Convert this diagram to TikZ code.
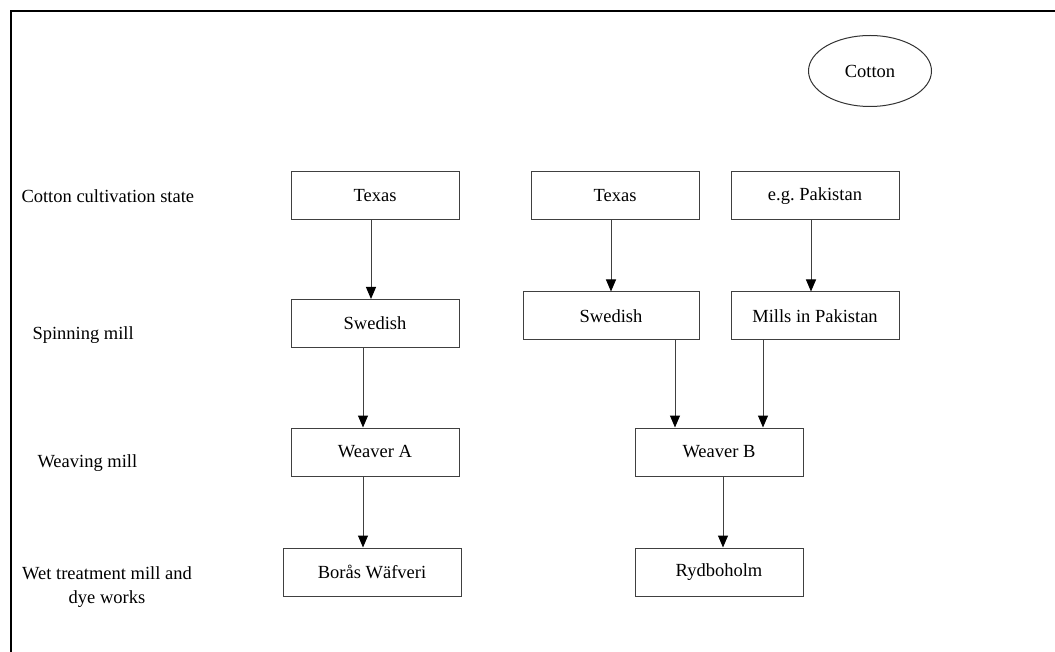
\documentclass[tikz,border=0pt]{standalone}
\usepackage{fontspec}
\setmainfont{Liberation Serif}
\usetikzlibrary{arrows.meta,shapes.geometric}

\begin{document}
\begin{tikzpicture}[x=1pt, y=-1pt, ->, >={Triangle[width=10pt,length=12pt,color=black]}, line width=1pt,
  font=\fontsize{18.5}{23}\selectfont,
  box/.style={draw=black!75, minimum width=168pt, minimum height=48pt, inner sep=0pt},
  lbl/.style={anchor=west, inner sep=0pt}]
\useasboundingbox (0,0) rectangle (1055,652);
\draw [-, line width=2pt] (11,652) -- (11,11) -- (1055,11);

 \node [ellipse, draw=black!80, minimum width=123pt, minimum height=71pt, inner sep=0pt] (cotton) at (870,71) {Cotton};

 \node [lbl] (lcult) at (21,196) {Cotton cultivation state};
 \node [lbl] (lspin) at (32,335) {Spinning mill};
 \node [lbl] (lweave) at (37,463) {Weaving mill};
 \node [align=center, inner sep=0pt, font=\fontsize{18.5}{24}\selectfont] (lwet) at (107,587) {Wet treatment mill and\\dye works};

 \node [box] (texA) at (375,196) {Texas};
 \node [box] (swedA) at (375,323.5) {Swedish};
 \node [box] (weavA) at (375,452) {Weaver A};
 \node [box, minimum width=178pt] (boras) at (372,572) {Borås Wäfveri};

 \node [box] (texB) at (615,196) {Texas};
 \node [box, minimum width=176pt] (swedB) at (611,316) {Swedish};
 \node [box] (pak) at (815,196) {e.g.\ Pakistan};
 \node [box] (mills) at (815,316) {Mills in Pakistan};
 \node [box] (weavB) at (719,452) {Weaver B};
 \node [box] (ryd) at (719,572) {Rydboholm};

\draw [draw=black!75] ([xshift=-4pt]texA.south) -- ([xshift=-4pt]texA.south |- swedA.north);
\draw [draw=black!75] ([xshift=-12pt]swedA.south) -- ([xshift=-12pt]swedA.south |- weavA.north);
\draw [draw=black!75] ([xshift=-12pt]weavA.south) -- ([xshift=-12pt]weavA.south |- boras.north);

\draw [draw=black!75] ([xshift=-4pt]texB.south) -- ([xshift=-4pt]texB.south |- swedB.north);
\draw [draw=black!75] ([xshift=-4pt]pak.south) -- ([xshift=-4pt]pak.south |- mills.north);
\draw [draw=black!75] ([xshift=64pt]swedB.south) -- ([xshift=64pt]swedB.south |- weavB.north);
\draw [draw=black!75] ([xshift=-52pt]mills.south) -- ([xshift=-52pt]mills.south |- weavB.north);
\draw [draw=black!75] ([xshift=4pt]weavB.south) -- ([xshift=4pt]weavB.south |- ryd.north);
\end{tikzpicture}
\end{document}
